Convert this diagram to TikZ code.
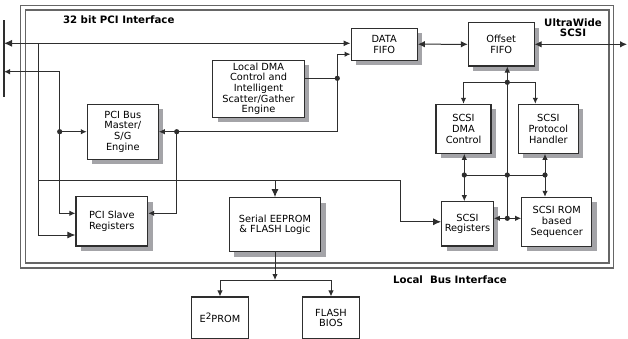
\documentclass[tikz,border=0pt]{standalone}
\usepackage{fontspec}
\setmainfont{DejaVu Sans}
\usetikzlibrary{arrows.meta,shadows}
\definecolor{linec}{HTML}{2E2E2E}
\definecolor{framec}{HTML}{666666}
\definecolor{shadowc}{HTML}{A4A4A8}
\begin{document}
\begin{tikzpicture}[x=1pt,y=-1pt,line width=1pt,
  conn/.style={draw=linec,line width=1pt},
  sarr/.style={conn,-{Latex[length=6pt,width=5.5pt]}},
  barr/.style={conn,-{Latex[length=8pt,width=7pt]}},
  dsarr/.style={conn,{Latex[length=6pt,width=5.5pt]}-{Latex[length=6pt,width=5.5pt]}},
  box/.style={draw=linec,fill=white,line width=1.1pt,align=center,inner sep=0pt,
    font=\fontsize{9.8}{10.7}\selectfont,
    drop shadow={shadow xshift=5pt,shadow yshift=-5pt,fill=shadowc,opacity=1}},
  pbox/.style={draw=linec,fill=white,line width=1.1pt,align=center,inner sep=0pt,
    font=\fontsize{9.8}{10.7}\selectfont},
  lbl/.style={font=\bfseries\fontsize{10.2}{10}\selectfont,inner sep=0pt}]
\useasboundingbox (0,0) rectangle (628,338);
\clip (0,0) rectangle (628,338);
% frames
\draw[framec,line width=1.3pt] (20.7,5.3) rectangle (613.5,268);
\draw[framec,line width=1.7pt] (25.6,10.3) rectangle (609,263.2);
% left bus bar
\draw[linec,line width=1.1pt] (4,20) -- (4,96.7);
% labels
\node[lbl,anchor=west] (tpci) at (62.5,20) {32 bit PCI Interface};
\node[lbl,align=center] (tuw) at (573,27.5) {UltraWide\\SCSI};
\node[lbl,anchor=west] (tlb) at (392.5,280) {Local\ \ Bus Interface};
% boxes
\node[box,minimum width=71pt,minimum height=54.7pt] (bm) at (122.8,131.7) {PCI Bus\\Master/\\S/G\\Engine};
\node[box,minimum width=91.6pt,minimum height=57.3pt] (dma) at (258.5,88.7) {Local DMA\\Control and\\Intelligent\\Scatter/Gather\\Engine};
\node[box,minimum width=66.3pt,minimum height=31.7pt] (df) at (384.2,44.2) {DATA\\FIFO};
\node[box,minimum width=65.7pt,minimum height=43.3pt] (of) at (501.2,44.3) {Offset\\FIFO};
\node[box,minimum width=55pt,minimum height=49pt] (sd) at (463.5,128.8) {SCSI\\DMA\\Control};
\node[box,minimum width=60pt,minimum height=49pt] (sp) at (548.3,128.8) {SCSI\\Protocol\\Handler};
\node[box,minimum width=51.6pt,minimum height=44.3pt] (sr) at (467.5,223.8) {SCSI\\Registers};
\node[box,minimum width=70pt,minimum height=48.7pt] (rs) at (556.7,221.7) {SCSI ROM\\based\\Sequencer};
\node[box,minimum width=91.4pt,minimum height=54pt] (ee) at (275,224.7) {Serial EEPROM\\\& FLASH Logic};
\node[box,minimum width=71.7pt,minimum height=49.3pt] (ps) at (111.8,221.3) {PCI Slave\\Registers};
\node[pbox,minimum width=56.8pt,minimum height=42pt] (e2) at (220,318) {E\raisebox{3pt}{\fontsize{8.8}{8.8}\selectfont 2}PROM};
\node[pbox,minimum width=56.6pt,minimum height=42pt] (fb) at (331,318) {FLASH\\BIOS};
% coordinates
\coordinate (L1) at (4,43.3);
\coordinate (L2) at (4,71.7);
\coordinate (v1) at (38.3,43.3);
\coordinate (h1) at (38.3,180.7);
\coordinate (h2) at (400.7,180.7);
\coordinate (c2) at (59.7,71.7);
\coordinate (j1) at (59.7,131.7);
\coordinate (j2) at (176.7,131.7);
\coordinate (j3) at (337.3,78.3);
\coordinate (k1) at (507.3,82.3);
\coordinate (k2) at (507.3,175);
\coordinate (k3) at (507.3,218.3);
\coordinate (m1) at (464.3,175);
\coordinate (m2) at (545,175);
\coordinate (n1) at (275,280);
\coordinate (R1) at (627,44.3);
% PCI side connectors
\draw[conn,{Latex[length=8pt,width=7pt]}-{Latex[length=7pt,width=6pt]}] (L1) -- (L1 -| df.west);
\draw[barr] (v1) |- ([yshift=-13.7pt]ps.west);
\draw[conn] (h1) -- (h2);
\draw[barr] (h2) |- ([yshift=2pt]sr.west);
\draw[barr] (h1 -| ee.north) -- (ee.north);
\draw[conn,{Latex[length=6pt,width=5.5pt]}-{Latex[length=6pt,width=5.5pt]}] (L2) -- (c2) |- ([yshift=8pt]ps.west);
\draw[sarr] (j1) -- (bm.west);
\draw[sarr] (j2) -- (bm.east);
\draw[sarr] (j2) |- ([yshift=8pt]ps.east);
\draw[sarr] (j2) -| (j3) |- ([yshift=-10pt]df.west);
\draw[conn] (j3 -| dma.east) -- (j3);
% FIFO connectors
\draw[conn,{Latex[length=7pt,width=6.5pt]}-{Latex[length=7pt,width=6.5pt]}] (df.east) -- (of.west);
\draw[conn,{Latex[length=7pt,width=6.5pt]}-{Latex[length=7pt,width=6.5pt]}] (of.east) -- (R1);
% SCSI connectors
\draw[sarr] (k3) -- (k3 |- of.south);
\draw[conn] (k1 -| sd.north) -- ([xshift=-13pt]k1 -| sp.north);
\draw[sarr] (k1) -| (sd.north);
\draw[sarr] (k1) -| ([xshift=-13pt]sp.north);
\draw[conn] (m1) -- (m2);
\draw[sarr] (m1) -- (m1 |- sd.south);
\draw[sarr] (m1) -- (m1 |- sr.north);
\draw[sarr] (m2) -- (m2 |- sp.south);
\draw[sarr] (m2) -- (m2 |- rs.north);
\draw[sarr] (k3) -- (k3 -| sr.east);
\draw[sarr] (k3) -- (k3 -| rs.west);
% EEPROM connectors
\draw[sarr] (ee.south) -- (n1);
\draw[sarr] (n1) -| (e2.north);
\draw[sarr] (n1) -| (fb.north);
% junction dots
\foreach \p in {j1,j2,j3,k1,k2,k3,m1,m2} \fill[linec] (\p) circle (2.6pt);
\end{tikzpicture}
\end{document}
